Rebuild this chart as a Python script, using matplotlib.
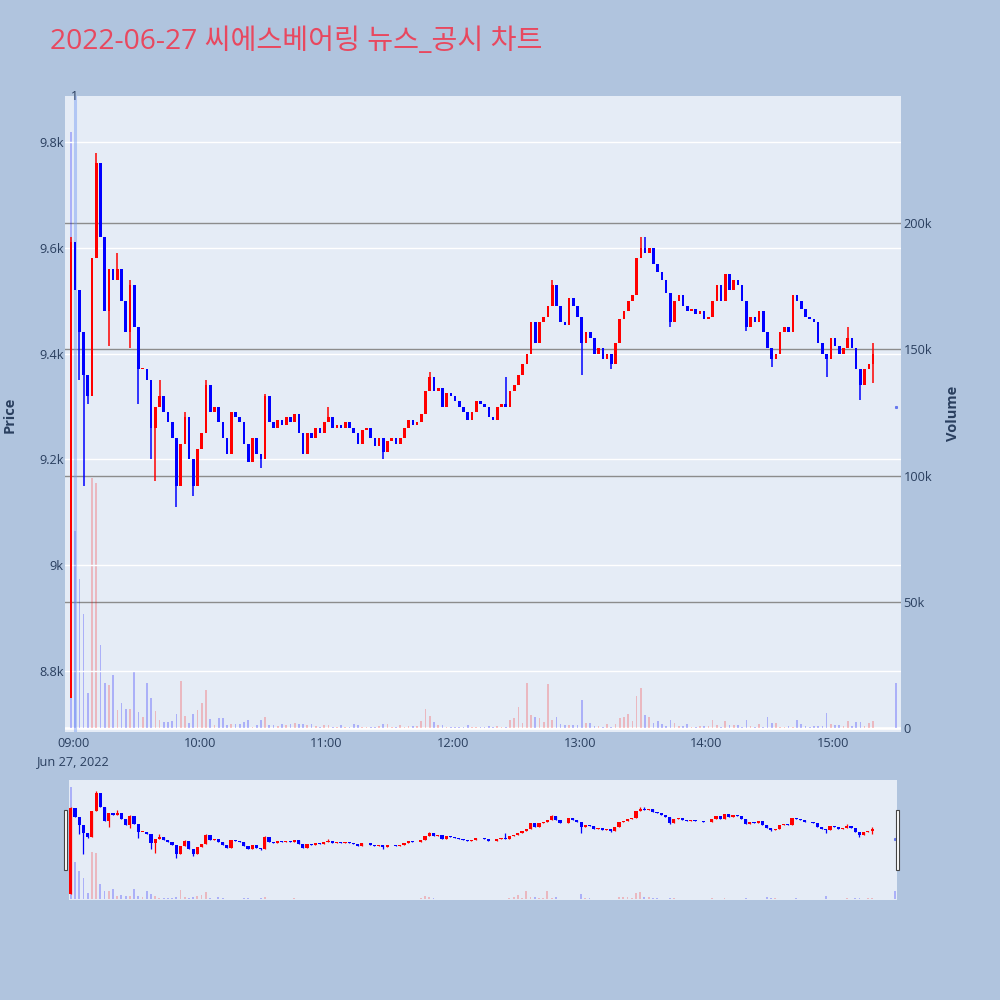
import numpy as np
import matplotlib.pyplot as plt
from matplotlib.patches import Rectangle

plt.rcParams['font.family'] = ['Open Sans', 'Noto Sans CJK KR', 'DejaVu Sans']

title = "2022-06-27 씨에스베어링 뉴스_공시 차트"

# 2-minute candles, candle i sits at minute 2*i - 1 after 09:00
first_open = 8750
closes = [
    9610, 9520, 9440, 9360, 9320, 9580, 9760, 9620, 9480, 9560,
    9540, 9560, 9500, 9440, 9530, 9450, 9370, 9370, 9350, 9260,
    9300, 9320, 9290, 9270, 9240, 9150, 9230, 9280, 9200, 9150,
    9220, 9250, 9340, 9290, 9300, 9270, 9240, 9210, 9290, 9280,
    9270, 9230, 9195, 9240, 9210, 9200, 9320, 9270, 9260, 9275,
    9265, 9280, 9270, 9285, 9250, 9210, 9250, 9240, 9260, 9250,
    9270, 9280, 9260, 9265, 9260, 9270, 9260, 9250, 9230, 9255,
    9260, 9240, 9225, 9240, 9215, 9235, 9240, 9230, 9240, 9260,
    9275, 9265, 9270, 9285, 9330, 9355, 9330, 9335, 9300, 9325,
    9320, 9310, 9300, 9290, 9275, 9290, 9310, 9305, 9300, 9280,
    9275, 9300, 9305, 9300, 9330, 9340, 9360, 9380, 9400, 9460,
    9420, 9460, 9470, 9490, 9530, 9490, 9460, 9455, 9505, 9490,
    9470, 9420, 9440, 9430, 9400, 9410, 9390, 9400, 9380, 9420,
    9465, 9480, 9500, 9510, 9580, 9600, 9590, 9600, 9570, 9555,
    9540, 9515, 9460, 9500, 9510, 9490, 9480, 9485, 9475, 9480,
    9465, 9470, 9500, 9530, 9500, 9550, 9520, 9540, 9530, 9500,
    9450, 9470, 9460, 9480, 9440, 9410, 9390, 9400, 9440, 9450,
    9440, 9510, 9500, 9485, 9470, 9465, 9460, 9420, 9400, 9390,
    9430, 9415, 9400, 9410, 9430, 9410, 9370, 9340, 9370, 9380,
    9400,
]
high_wicks = {0: 9620, 6: 9780, 11: 9590, 14: 9540, 21: 9350, 27: 9290,
              32: 9350, 46: 9323, 61: 9300, 85: 9365, 103: 9355, 114: 9540,
              135: 9620, 136: 9620, 184: 9450, 190: 9420}
low_wicks = {2: 9350, 3: 9150, 4: 9305, 9: 9415, 14: 9410, 16: 9305,
             19: 9200, 20: 9160, 25: 9110, 29: 9130, 45: 9183, 74: 9200,
             121: 9360, 128: 9370, 142: 9450, 160: 9442, 166: 9375,
             179: 9355, 187: 9313, 190: 9345}

# volume per candle, thousands of shares
volumes_k = [
    236, 78, 59, 45, 14, 99, 97, 33, 18, 17,
    21, 7, 10, 7.5, 7.5, 22, 6.3, 4.4, 18, 12,
    6.7, 3, 2.5, 2.2, 2.6, 5.7, 18.6, 4.9, 2, 5.4,
    7, 10, 15, 3.5, 1, 4, 3.8, 1.3, 1.5, 1.5,
    1.5, 2.5, 3, 0.5, 1, 3, 4.4, 1, 1, 0.6,
    1.5, 1.2, 1.5, 2, 1.5, 1.6, 1.2, 1.5, 0.6, 0.5,
    1.3, 1.3, 0.5, 0.5, 1, 0.4, 0.5, 1.5, 1, 0.4,
    0.4, 0.5, 0.4, 0.6, 1.5, 1.5, 0.5, 0.4, 1.2, 0.5,
    0.6, 0.8, 0.6, 2.8, 7.4, 4.8, 2.5, 1.2, 1.2, 0.4,
    0.4, 0.5, 0.3, 0.4, 1, 0.4, 0.3, 0.5, 0.4, 0.8,
    0.4, 0.6, 0.3, 0.5, 3.2, 4, 8.3, 2, 18, 5.2,
    4.5, 3.8, 2.5, 17.5, 3, 4.4, 1.5, 1, 1, 1,
    1, 11, 2, 2, 0.8, 0.8, 0.4, 1.5, 0.5, 1.5,
    4, 4.5, 5.6, 2.6, 12.7, 15.8, 5, 4.5, 2, 2.6,
    1.5, 0.7, 3.2, 2, 0.8, 0.8, 1.5, 0.4, 0.4, 0.8,
    0.8, 0.8, 3.2, 1.2, 0.5, 2.6, 1.2, 1.2, 1.2, 0.5,
    3.2, 0.8, 0.4, 1.5, 0.5, 4.4, 2, 2, 0.5, 0.4,
    0.6, 0.4, 3.2, 1.5, 0.8, 0.4, 0.6, 0.6, 0.8, 6,
    1.5, 1.2, 1.2, 0.8, 2.8, 0.8, 2.4, 2.4, 0.8, 2,
    2.8,
]

# closing auction at 15:30
auction_minute = 390
auction_price = 9300
auction_volume_k = 17.9

news_minute = 0.8
news_label = "1"

tick_minutes = [0, 60, 120, 180, 240, 300, 360]
tick_labels = ["09:00\nJun 27, 2022", "10:00", "11:00", "12:00", "13:00", "14:00", "15:00"]
price_ticks = [8800, 9000, 9200, 9400, 9600, 9800]
price_labels = ["8.8k", "9k", "9.2k", "9.4k", "9.6k", "9.8k"]
vol_ticks = [0, 50000, 100000, 150000, 200000]
vol_labels = ["0", "50k", "100k", "150k", "200k"]

BG = "#B0C4DE"
PLOT_BG = "#E5ECF6"
TXT = "#2a3f5f"
UP, DOWN = "#ff0000", "#0000ff"
UP_VOL, DOWN_VOL = (1, 0, 0, 0.22), (0, 0, 1, 0.25)

# candle data
n = len(closes)
t = np.arange(n) * 2 - 1
c = np.array(closes, dtype=float)
o = np.r_[first_open, c[:-1]]
h = np.maximum(o, c)
l = np.minimum(o, c)
for k, v in high_wicks.items():
    h[k] = max(h[k], v)
for k, v in low_wicks.items():
    l[k] = min(l[k], v)
up = c >= o
cols = np.where(up, UP, DOWN)
vol = np.array(volumes_k) * 1000
vol_up = np.r_[False, c[1:] >= c[:-1]]
vol_cols = [UP_VOL if u else DOWN_VOL for u in vol_up]

PRICE_LIM = (8685.7, 9887.4)
VOL_LIM = (-1430, 250500)


def draw(ax_v, ax_p, wick_lw, body_w, vol_w):
    ax_v.bar(t, vol, width=vol_w, color=vol_cols, linewidth=0, zorder=2)
    ax_v.bar([auction_minute], [auction_volume_k * 1000], width=vol_w,
             color=[DOWN_VOL], linewidth=0, zorder=2)
    ax_p.vlines(t, l, h, colors=cols, lw=wick_lw, zorder=3)
    body = np.maximum(np.abs(c - o), 3)
    ax_p.bar(t, body, bottom=np.minimum(o, c), width=body_w, color=cols,
             linewidth=0, zorder=4)
    ax_p.plot([auction_minute], [auction_price], 's', ms=1.2, color="#6677ee", zorder=4)
    ax_v.set_ylim(*VOL_LIM)
    ax_p.set_ylim(*PRICE_LIM)
    for a in (ax_v, ax_p):
        for s in a.spines.values():
            s.set_visible(False)


fig = plt.figure(figsize=(10, 10), dpi=100)
fig.patch.set_facecolor(BG)

# main chart
ax_v = fig.add_axes([0.065, 0.2684, 0.8357, 0.6359])
ax_v.set_facecolor(PLOT_BG)
ax_p = ax_v.twinx()
draw(ax_v, ax_p, 1.1, 1.25, 0.8)
ax_v.set_xlim(-3.8, 392.1)

ax_v.yaxis.tick_right()
ax_v.set_yticks(vol_ticks)
ax_v.set_yticklabels(vol_labels)
ax_v.grid(axis="y", color="#8c8c8c", lw=1)
ax_v.set_axisbelow(True)
ax_v.axhline(0, color="white", lw=2, zorder=1)
ax_v.set_xticks(tick_minutes)
ax_v.set_xticklabels(tick_labels, linespacing=1.45)
ax_v.tick_params(axis="x", length=0, labelsize=9.2, labelcolor=TXT, pad=4)
ax_v.tick_params(axis="y", length=0, labelsize=9.2, labelcolor=TXT, pad=2)

ax_p.yaxis.tick_left()
ax_p.set_yticks(price_ticks)
ax_p.set_yticklabels(price_labels)
ax_p.grid(axis="y", color="white", lw=1)
ax_p.set_axisbelow(True)
ax_p.tick_params(axis="y", length=0, labelsize=9.2, labelcolor=TXT, pad=1)

ax_p.axvline(news_minute, color=(0.45, 0.6, 0.95, 0.45), lw=2.2, zorder=2)
ax_p.text(news_minute, 0.998, news_label, transform=ax_p.get_xaxis_transform(),
          ha="center", va="center", fontsize=9, color=TXT, clip_on=False)

fig.text(0.010, 0.585, "Price", rotation=90, ha="center", va="center",
         fontsize=10.5, fontweight="bold", color=TXT)
fig.text(0.953, 0.587, "Volume", rotation=90, ha="center", va="center",
         fontsize=10.5, fontweight="bold", color=TXT)
fig.text(0.05, 0.958, title, fontsize=20.3, color="#e8485f", ha="left", va="center")

# range slider
ax_sv = fig.add_axes([0.0687, 0.10, 0.8283, 0.12])
ax_sv.set_facecolor(PLOT_BG)
ax_sp = ax_sv.twinx()
draw(ax_sv, ax_sp, 0.9, 1.5, 0.9)
ax_sv.set_xlim(-2.0, 390.8)
for a in (ax_sv, ax_sp):
    a.set_xticks([])
    a.set_yticks([])

for x0 in (0.0635, 0.8955):
    fig.patches.append(Rectangle((x0, 0.13), 0.0035, 0.06, transform=fig.transFigure,
                                 facecolor="white", edgecolor="#444444", lw=0.8))

fig.savefig("out.png", dpi=100, facecolor=BG)
